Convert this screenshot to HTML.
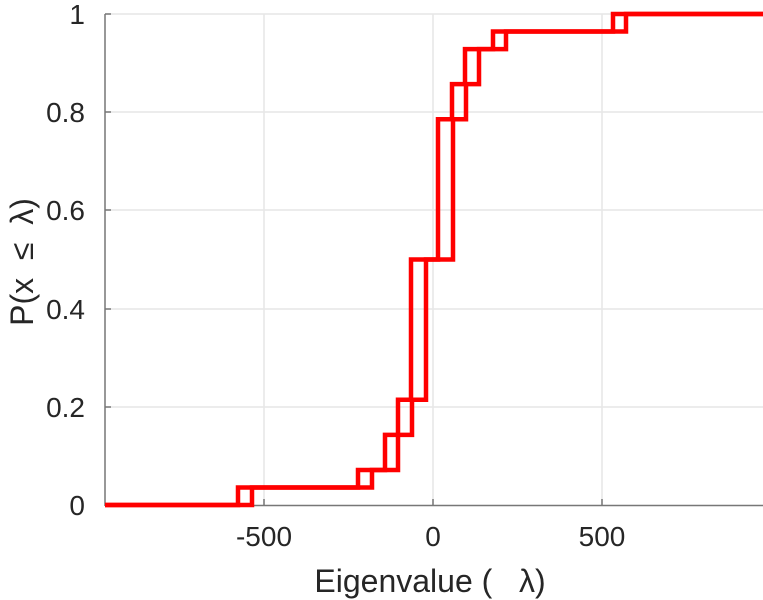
<!DOCTYPE html>
<html><head><meta charset="utf-8"><style>
html,body{margin:0;padding:0;background:#fff;}
svg{display:block;font-family:"Liberation Sans","DejaVu Sans",sans-serif;}
</style></head><body>
<svg width="763" height="600" viewBox="0 0 763 600" xmlns="http://www.w3.org/2000/svg">
<g stroke="#e6e6e6" stroke-width="1.5">
<line x1="105" y1="14" x2="763" y2="14"/>
<line x1="105" y1="112" x2="763" y2="112"/>
<line x1="105" y1="210" x2="763" y2="210"/>
<line x1="105" y1="309" x2="763" y2="309"/>
<line x1="105" y1="407" x2="763" y2="407"/>
<line x1="264" y1="14" x2="264" y2="505"/>
<line x1="433" y1="14" x2="433" y2="505"/>
<line x1="602" y1="14" x2="602" y2="505"/>
</g>
<g stroke="#777" stroke-width="1.5">
<line x1="105" y1="14" x2="105" y2="506"/>
<line x1="105" y1="505.5" x2="763" y2="505.5"/>
<line x1="105" y1="14" x2="111" y2="14"/>
<line x1="105" y1="112" x2="111" y2="112"/>
<line x1="105" y1="210" x2="111" y2="210"/>
<line x1="105" y1="309" x2="111" y2="309"/>
<line x1="105" y1="407" x2="111" y2="407"/>
<line x1="264" y1="505" x2="264" y2="499"/>
<line x1="433" y1="505" x2="433" y2="499"/>
<line x1="602" y1="505" x2="602" y2="499"/>
</g>
<g fill="none" stroke="#ff0000" stroke-width="4.5">
<path d="M105,505 H238 V487.5 H358 V470 H385 V434.9 H398 V399.8 H411 V259.5 H438 V119.2 H452 V84.1 H465 V49.1 H493 V31.5 H613 V14 H763"/>
<path d="M105,505 H252 V487.5 H372 V470 H398 V434.9 H412 V399.8 H426 V259.5 H453 V119.2 H466 V84.1 H479 V49.1 H506 V31.5 H626 V14 H763"/>
</g>
<g fill="#262626" font-size="28" text-anchor="end">
<text x="85" y="24">1</text>
<text x="85" y="122">0.8</text>
<text x="85" y="220">0.6</text>
<text x="85" y="319">0.4</text>
<text x="85" y="417">0.2</text>
<text x="85" y="515">0</text>
</g>
<g fill="#262626" font-size="28" text-anchor="middle">
<text x="264" y="546">-500</text>
<text x="433" y="546">0</text>
<text x="602" y="546">500</text>
<text x="430" y="592" font-size="32" style="white-space:pre">Eigenvalue (   λ)</text>
<text transform="translate(33,262) rotate(-90)" font-size="32" style="white-space:pre">P(x  ≤  λ)</text>
</g>
</svg>
</body></html>
